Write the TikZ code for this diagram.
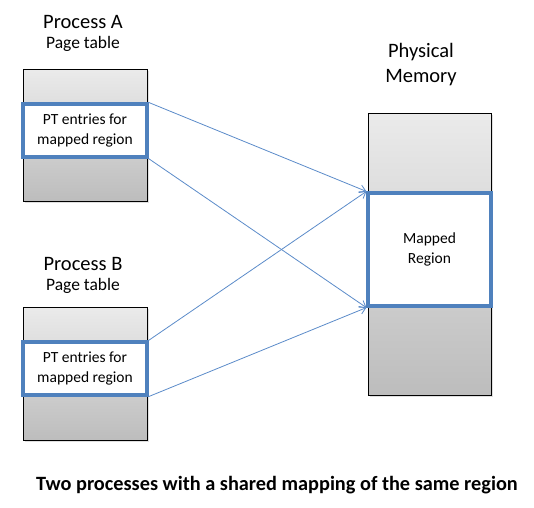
\documentclass[tikz,border=0pt]{standalone}
\usepackage{fontspec}
\setmainfont{Carlito}
\usetikzlibrary{arrows.meta, positioning, shadows}

\definecolor{officeblue}{RGB}{79,129,189}
\definecolor{linkblue}{RGB}{91,139,201}

\begin{document}
\begin{tikzpicture}[
    x=1pt, y=1pt,
    table/.style={rectangle, draw, line width=0.8pt, top color=black!8, bottom color=black!26,
        drop shadow={opacity=0.25, shadow xshift=1.5pt, shadow yshift=-1.5pt}, inner sep=0pt},
    entries/.style={rectangle, draw=officeblue, line width=3.2pt, fill=white, align=center,
        minimum width=124pt, minimum height=53pt, inner sep=0pt, font=\fontsize{15.5}{20}\selectfont},
    title/.style={font=\fontsize{20.5}{25}\selectfont, align=center},
    subtitle/.style={font=\fontsize{17.5}{20}\selectfont},
    link/.style={-{Straight Barb[length=6pt, width=8pt]}, draw=linkblue, line width=0.8pt}
]
\useasboundingbox (0,0) rectangle (534,-507);

% Page tables
\node[table, minimum width=124pt, minimum height=132pt] (tableA) at (85,-135) {};
\node[entries] (entriesA) at (85,-130.5) {PT entries for\\mapped region};
\node[table, minimum width=124pt, minimum height=133pt] (tableB) at (85,-373.5) {};
\node[entries] (entriesB) at (85,-368.5) {PT entries for\\mapped region};

% Physical memory
\node[table, minimum width=123pt, minimum height=282pt] (memory) at (429.5,-254) {};
\node[entries, minimum width=123pt, minimum height=113pt] (region) at (429.5,-249.5) {Mapped\\Region};

% Labels
\node[title] (procA) at (83,-22) {Process A};
\node[subtitle] (ptA) at (83,-44) {Page table};
\node[title] (procB) at (83,-264) {Process B};
\node[subtitle] (ptB) at (83,-286) {Page table};
\node[title] (phys) at (421,-65) {Physical\\Memory};
\node[font=\fontsize{20.3}{24}\selectfont\bfseries] (caption) at (277,-485) {Two processes with a shared mapping of the same region};

% Mappings
\draw[link] (entriesA.north east) -- (region.north west);
\draw[link] (entriesA.south east) -- (region.south west);
\draw[link] (entriesB.north east) -- (region.north west);
\draw[link] (entriesB.south east) -- (region.south west);

\end{tikzpicture}
\end{document}
